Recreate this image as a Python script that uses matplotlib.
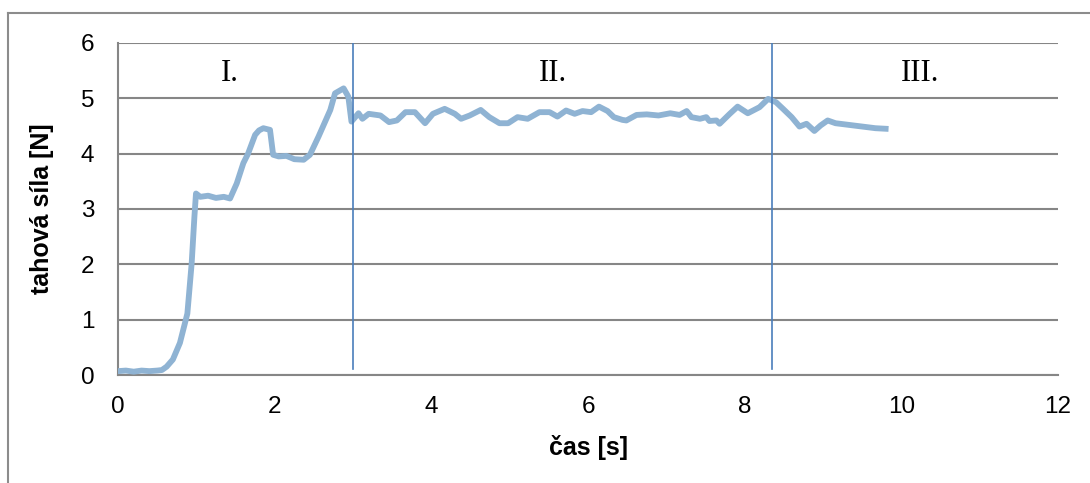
import matplotlib.pyplot as plt
from matplotlib.lines import Line2D

cas = [0.0, 0.1, 0.2, 0.3, 0.4, 0.5, 0.56, 0.62, 0.7, 0.79, 0.885, 0.94, 0.975, 0.995,
       1.05, 1.15, 1.25, 1.35, 1.43, 1.515, 1.6, 1.66, 1.75, 1.8, 1.855, 1.94, 1.98,
       2.05, 2.15, 2.25, 2.37, 2.45, 2.56, 2.71, 2.77, 2.88, 2.94, 2.98,
       3.07, 3.12, 3.2, 3.35, 3.46, 3.56, 3.67, 3.79, 3.92, 4.02, 4.17, 4.3, 4.38,
       4.49, 4.63, 4.74, 4.87, 4.98, 5.1, 5.23, 5.38, 5.51, 5.61, 5.72, 5.83, 5.93,
       6.04, 6.14, 6.25, 6.33, 6.44, 6.49, 6.62, 6.75, 6.9, 7.05, 7.17, 7.26, 7.32,
       7.43, 7.51, 7.55, 7.64, 7.68, 7.81, 7.91, 8.04, 8.19, 8.3, 8.4, 8.49, 8.6,
       8.7, 8.79, 8.89, 8.97, 9.06, 9.16, 9.33, 9.5, 9.67, 9.8]
sila = [0.07, 0.08, 0.06, 0.08, 0.07, 0.08, 0.09, 0.15, 0.28, 0.58, 1.11, 2.02, 2.86, 3.28,
        3.22, 3.24, 3.2, 3.22, 3.19, 3.46, 3.83, 4.0, 4.34, 4.42, 4.46, 4.43, 3.98,
        3.95, 3.96, 3.9, 3.89, 3.98, 4.31, 4.79, 5.09, 5.18, 5.03, 4.58,
        4.73, 4.63, 4.72, 4.69, 4.57, 4.6, 4.75, 4.75, 4.55, 4.72, 4.81, 4.72, 4.63,
        4.69, 4.79, 4.66, 4.55, 4.55, 4.66, 4.63, 4.75, 4.75, 4.67, 4.78, 4.72, 4.77,
        4.75, 4.85, 4.77, 4.66, 4.61, 4.6, 4.7, 4.71, 4.69, 4.73, 4.7, 4.77, 4.66,
        4.63, 4.66, 4.59, 4.6, 4.54, 4.72, 4.85, 4.73, 4.84, 4.99, 4.93, 4.81, 4.66,
        4.49, 4.54, 4.41, 4.51, 4.6, 4.55, 4.52, 4.49, 4.46, 4.45]

# phase boundaries and labels
hranice = [3.0, 8.35]
faze = ["I.", "II.", "III."]
faze_x = [1.43, 5.55, 10.24]

plt.rcParams['font.family'] = ['Liberation Sans', 'DejaVu Sans']

fig = plt.figure(figsize=(10.9, 4.83), dpi=100)
ax = fig.add_axes([0.1083, 0.2236, 0.8623, 0.6874])

grid_c = '#868686'
ax.set_xlim(0, 12)
ax.set_ylim(0, 6)
ax.set_xticks(range(0, 13, 2))
ax.set_yticks(range(0, 7))
ax.yaxis.grid(True, color=grid_c, linewidth=1.5)
ax.set_axisbelow(True)
for s in ['top', 'right']:
    ax.spines[s].set_visible(False)
for s in ['left', 'bottom']:
    ax.spines[s].set_color(grid_c)
    ax.spines[s].set_linewidth(1.5)
ax.tick_params(length=0, labelsize=17.5)
ax.tick_params(axis='y', pad=17)
ax.tick_params(axis='x', pad=15)

ax.plot(cas, sila, color='#8fb3d3', linewidth=4.2, solid_joinstyle='round', zorder=3)
for h in hranice:
    ax.plot([h, h], [0.1, 6], color='#4a7ebb', linewidth=1.2, zorder=4)
for txt, x in zip(faze, faze_x):
    ax.text(x, 5.44, txt, ha='center', va='center', fontsize=22,
            family=['Liberation Serif', 'DejaVu Serif'])

ax.set_xlabel('čas [s]', fontsize=18, fontweight='bold', labelpad=12)
ax.set_ylabel('tahová síla [N]', fontsize=18, fontweight='bold', labelpad=19)

# outer frame
fig.add_artist(Line2D([8 / 1090, 8 / 1090], [0, 1 - 13 / 483], color='#8c8c8c', linewidth=1.5))
fig.add_artist(Line2D([8 / 1090, 1], [1 - 13 / 483, 1 - 13 / 483], color='#8c8c8c', linewidth=1.5))

fig.savefig('out.png', dpi=100)
